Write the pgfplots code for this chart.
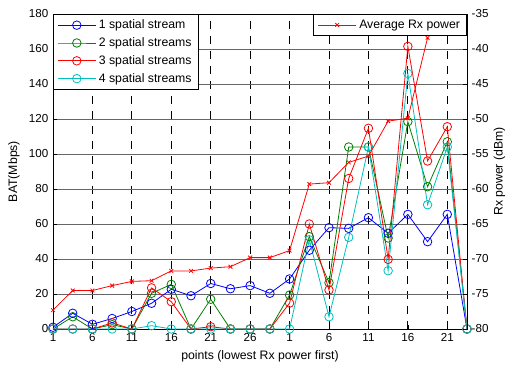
\documentclass[border=0pt]{standalone}
\usepackage{fontspec}
\setmainfont{Liberation Sans}
\usepackage{pgfplots}
\usepackage{pgfplotstable}
\pgfplotsset{compat=1.18}
\definecolor{mgreen}{RGB}{0,128,0}
\definecolor{mcyan}{RGB}{0,191,191}

\pgfplotstableread{
x b1 b2 b3 b4
0 1 0 0 0
1 9 7 0 0
2 2.7 0 0 0
3 6 2.5 3.5 0
4 10 0 0 0
5 14.7 20.4 23.5 1.9
6 22.7 25.5 15.6 0
7 19 0 0 0
8 26 17 1.3 0
9 23 0 0 0
10 24.8 0 0 0
11 20.4 0 0 0
12 28.6 19.4 14.8 0
13 45 52.8 60 51
14 57.9 26.5 22.3 7
15 57.5 104 86 52.4
16 63.6 104 114.7 104
17 54.7 52 39.8 33.3
18 65.5 118.5 161.5 146
19 49.9 81.3 96 71
20 65.5 107 115.6 104
21 0 0 0 0
}\streams

\pgfplotstableread{
x p
0 -77.3
1 -74.5
2 -74.5
3 -73.8
4 -73.2
5 -73.1
6 -71.7
7 -71.7
8 -71.3
9 -71.1
10 -69.8
11 -69.8
12 -68.8
13 -59.3
14 -59.1
15 -56.2
16 -55.3
17 -50.3
18 -49.9
19 -38.4
}\rxp

\pgfplotsset{
  common/.style={
    scale only axis, width=310.5pt, height=236.25pt,
    xmin=0, xmax=21,
    /pgf/number format/assume math mode=true,
    tick label style={font=\fontsize{8.7}{10}\selectfont},
    label style={font=\fontsize{9.2}{11}\selectfont},
    axis line style={line width=0.6pt},
    tick style={black, line width=0.5pt},
    major tick length=3pt,
    tick align=inside,
    legend style={font=\fontsize{9.2}{11}\selectfont, draw=black, fill=white, line width=0.6pt,
      legend cell align=left, inner xsep=3pt, inner ysep=2pt, row sep=1.2pt},
    legend image code/.code={\draw[mark repeat=2,mark phase=2] plot coordinates {(0pt,0pt)(14.25pt,0pt)(28.5pt,0pt)};},
  },
  s/.style={line width=0.6pt, mark=o, mark size=3.2pt, mark options={solid, line width=0.6pt}},
}

\begin{document}
\begin{tikzpicture}
\begin{axis}[common,
  ymin=0, ymax=180,
  xtick={0,2,...,20}, xticklabels={1,6,11,16,21,26,1,6,11,16,21},
  ytick={0,20,...,180},
  xtick pos=bottom, ytick pos=left,
  xmajorgrids, ymajorgrids,
  major x grid style={black, dash pattern=on 6pt off 5.25pt, line width=0.6pt},
  major y grid style={black!60, line width=0.7pt},
  xlabel={points (lowest Rx power first)},
  ylabel={BAT(Mbps)},
  legend style={at={(0,1)}, anchor=north west},
]
\addplot[s, blue] table[x=x, y=b1]{\streams};
\addplot[s, mgreen] table[x=x, y=b2]{\streams};
\addplot[s, red] table[x=x, y=b3]{\streams};
\addplot[s, mcyan] table[x=x, y=b4]{\streams};
\legend{1 spatial stream, 2 spatial streams, 3 spatial streams, 4 spatial streams}
\end{axis}
\begin{axis}[common,
  ymin=-80, ymax=-35,
  ytick={-80,-75,...,-35},
  axis y line*=right, axis x line=none,
  ylabel={Rx power (dBm)},
  ylabel shift=-3pt,
  legend style={at={(1,1)}, anchor=north east},
]
\addplot[red, line width=0.6pt, mark=x, mark size=2pt, mark options={solid}] table[x=x, y=p]{\rxp};
\legend{Average Rx power}
\end{axis}
\pgfresetboundingbox
\path[use as bounding box] (current axis.south west) ++(-39.75pt,-26.25pt) rectangle ++(379.5pt,273pt);
\end{tikzpicture}
\end{document}
